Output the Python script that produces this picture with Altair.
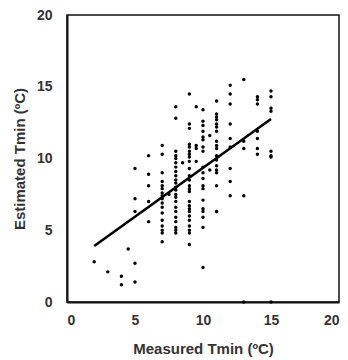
import altair as alt
import pandas as pd

# Scatter points, grouped by measured Tmin (x column)
cols = {
    2: [2.8],
    3: [2.1],
    4: [1.8, 1.2],
    4.5: [3.7],
    5: [9.3, 7.2, 6.3, 2.7, 1.4],
    6: [10.2, 8.9, 8.1, 7.0, 5.6],
    7: [10.9, 10.3, 9.0, 8.4, 8.1, 7.9, 7.6, 7.4, 7.2, 6.9, 6.6, 6.2, 5.7, 5.3, 5.0, 4.8, 4.2],
    7.5: [7.5],
    8: [13.6, 12.8, 10.5, 10.2, 10.0, 9.7, 9.4, 9.1, 8.8, 8.5, 8.3, 8.0, 7.8, 7.5, 7.3, 7.0,
        6.6, 6.3, 5.9, 5.6, 5.2, 5.0, 4.8],
    8.5: [9.7],
    9: [14.5, 12.4, 12.1, 11.0, 10.8, 10.5, 10.3, 10.1, 9.8, 9.3, 8.8, 8.5, 8.1, 7.9, 7.7,
        7.0, 6.7, 6.5, 6.3, 6.0, 5.7, 5.3, 5.0, 4.8, 4.0],
    9.5: [13.6, 10.9, 10.7, 9.8],
    10: [13.4, 12.6, 12.3, 11.9, 11.5, 11.3, 10.8, 10.5, 9.4, 9.0, 8.6, 8.1, 7.9, 7.1, 6.5,
         6.3, 5.9, 5.2, 2.4],
    10.5: [11.6, 9.2],
    11: [14.0, 13.1, 12.9, 12.7, 12.4, 12.2, 11.9, 11.2, 10.9, 10.7, 10.2, 9.9, 9.5, 9.2,
         9.0, 8.1, 6.3],
    12: [15.1, 14.5, 13.8, 12.4, 11.4, 10.8, 9.3, 8.4, 7.4],
    13: [15.5, 11.2, 10.7, 7.4, 0.0],
    14: [14.3, 14.1, 13.8, 11.9, 11.4, 10.7, 10.3],
    15: [14.7, 14.3, 13.5, 13.3, 10.5, 10.2, 10.1, 0.0],
}

measured = []
estimated = []
for xv, ys in cols.items():
    for yv in ys:
        measured.append(xv)
        estimated.append(yv)

# Fitted line end points
line_x = [2, 15]
line_y = [3.9, 12.75]

pts = pd.DataFrame({"measured": measured, "estimated": estimated})
ln = pd.DataFrame({"measured": line_x, "estimated": line_y})

text_color = "#333333"
font = "Liberation Sans"

xscale = alt.Scale(domain=[0, 20], nice=False, zero=False)
yscale = alt.Scale(domain=[0, 20], nice=False, zero=False)

xaxis = alt.Axis(values=[0, 5, 10, 15, 20], ticks=False, grid=False, labelPadding=11,
                 title="Measured Tmin (ºC)", titlePadding=14)
yaxis = alt.Axis(values=[0, 5, 10, 15, 20], ticks=False, grid=False, labelPadding=15,
                 title="Estimated Tmin (ºC)", titlePadding=9)

points = alt.Chart(pts).mark_circle(color="black", size=12, opacity=1).encode(
    x=alt.X("measured:Q", scale=xscale, axis=xaxis),
    y=alt.Y("estimated:Q", scale=yscale, axis=yaxis),
)

line = alt.Chart(ln).mark_line(color="black", strokeWidth=2.6).encode(
    x=alt.X("measured:Q", scale=xscale),
    y=alt.Y("estimated:Q", scale=yscale),
)

chart = (points + line).properties(
    width=272,
    height=287,
    autosize=alt.AutoSizeParams(type="none"),
    padding={"left": 67, "top": 15, "right": 9, "bottom": 58},
).configure_view(
    stroke="#111111", strokeWidth=1.5
).configure_axis(
    domainColor="#111111", domainWidth=2,
    labelFont=font, labelFontSize=14, labelFontWeight="bold", labelColor=text_color,
    titleFont=font, titleFontSize=15, titleFontWeight="bold", titleColor=text_color,
)

chart.save("out.html", embed_options={"renderer": "svg", "actions": False})
